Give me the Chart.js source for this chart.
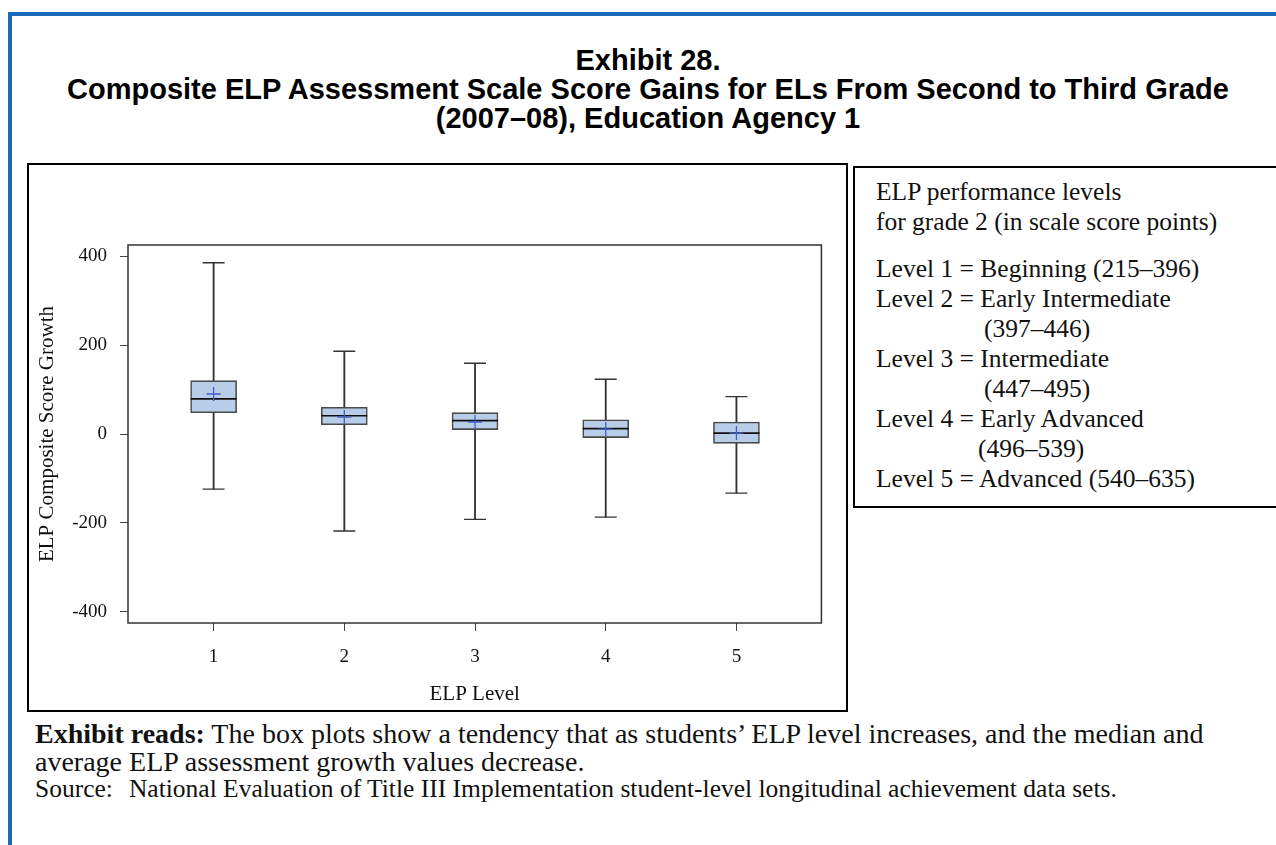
<!DOCTYPE html>
<html>
<head>
<meta charset="utf-8">
<script src="https://cdn.jsdelivr.net/npm/chart.js@4.4.1/dist/chart.umd.min.js"></script>
<style>
  html, body { margin: 0; padding: 0; background: #fff; }
  body { width: 1276px; height: 845px; position: relative; overflow: hidden; }
  .abs { position: absolute; }
  #blueTop { left: 8px; top: 12px; width: 1268px; height: 4px; background: #1a6bb7; }
  #blueLeft { left: 8px; top: 12px; width: 4px; height: 833px; background: #1a6bb7; }
  #title { left: 8px; width: 1280px; top: 46px; text-align: center;
    font: bold 29px "Liberation Sans", Arial, sans-serif; line-height: 29px; color: #000; }
  #chartBox { left: 27px; top: 163px; width: 821px; height: 549px; border: 2px solid #000; box-sizing: border-box; }
  #chartBox canvas { position: absolute; left: 0; top: 0; }
  #legendBox { left: 853px; top: 166px; width: 480px; height: 342px; border: 2px solid #000; box-sizing: border-box;
    padding: 9px 0 0 21px; font: 25.5px "Liberation Serif", serif; line-height: 30px; color: #111; white-space: nowrap; }
  #legendBox .gap { height: 17px; }
  .foot { left: 35px; font: 28px "Liberation Serif", serif; line-height: 28px; color: #111; white-space: nowrap; }
  .src { left: 35px; font: 25.5px "Liberation Serif", serif; line-height: 28px; color: #111; white-space: nowrap; }
</style>
</head>
<body>
<div id="blueTop" class="abs"></div>
<div id="blueLeft" class="abs"></div>

<div id="title" class="abs">
  Exhibit 28.<br>
  Composite ELP Assessment Scale Score Gains for ELs From Second to Third Grade<br>
  (2007–08), Education Agency 1
</div>

<div id="chartBox" class="abs">
  <canvas id="boxChart" width="817" height="545"></canvas>
</div>

<div id="legendBox" class="abs">
  <div>ELP performance levels</div>
  <div>for grade 2 (in scale score points)</div>
  <div class="gap"></div>
  <div>Level 1 = Beginning (215–396)</div>
  <div>Level 2 = Early Intermediate</div>
  <div style="padding-left:108px">(397–446)</div>
  <div>Level 3 = Intermediate</div>
  <div style="padding-left:108px">(447–495)</div>
  <div>Level 4 = Early Advanced</div>
  <div style="padding-left:102px">(496–539)</div>
  <div>Level 5 = Advanced (540–635)</div>
</div>

<div class="abs foot" style="top:720px"><b>Exhibit reads:</b> The box plots show a tendency that as students’ ELP level increases, and the median and</div>
<div class="abs foot" style="top:748px">average ELP assessment growth values decrease.</div>
<div class="abs src" style="top:775px">Source:<span style="display:inline-block;width:16px"></span>National Evaluation of Title III Implementation student-level longitudinal achievement data sets.</div>

<script>
const levels = [1, 2, 3, 4, 5];
const whiskerLow = [-124, -218, -192, -187, -133];
const q1 = [48, 21, 10, -8, -21];
const median = [79, 41, 30, 12, 2];
const q3 = [120, 60, 48, 32, 27];
const whiskerHigh = [385, 186, 159, 123, 84];
const mean = [90, 38, 27, 11, 2];
const yTicks = [-400, -200, 0, 200, 400];

Chart.defaults.font.family = "'Liberation Serif', 'Times New Roman', serif";
Chart.defaults.color = '#111';

// box frame around the plot area
const framePlugin = {
  id: 'frame',
  beforeDatasetsDraw(chart) {
    const { ctx, chartArea } = chart;
    ctx.save();
    ctx.strokeStyle = '#333';
    ctx.lineWidth = 1.5;
    ctx.strokeRect(chartArea.left, chartArea.top, chartArea.right - chartArea.left, chartArea.bottom - chartArea.top);
    ctx.restore();
  }
};

const ctx = document.getElementById('boxChart').getContext('2d');

new Chart(ctx, {
  type: 'bar',
  data: {
    datasets: [
      {
        label: 'Mean',
        type: 'scatter',
        data: levels.map((l, i) => ({ x: l, y: mean[i] })),
        pointStyle: 'cross',
        radius: 7,
        borderColor: '#3f5fc6',
        borderWidth: 1.3,
        order: 1
      },
      {
        label: 'Median',
        type: 'scatter',
        data: levels.map((l, i) => ({ x: l, y: median[i] })),
        pointStyle: 'line',
        radius: 23,
        borderColor: '#111',
        borderWidth: 1.6,
        order: 2
      },
      {
        label: 'Caps',
        type: 'scatter',
        data: levels.map((l, i) => ({ x: l, y: whiskerHigh[i] }))
          .concat(levels.map((l, i) => ({ x: l, y: whiskerLow[i] }))),
        pointStyle: 'line',
        radius: 11,
        borderColor: '#333',
        borderWidth: 1.4,
        order: 2
      },
      {
        label: 'Box',
        data: levels.map((l, i) => ({ x: l, y: [q1[i], q3[i]] })),
        backgroundColor: '#b8cde7',
        borderColor: '#4a4a4a',
        borderWidth: 1.6,
        borderSkipped: false,
        barThickness: 46,
        grouped: false,
        order: 3
      },
      {
        label: 'Whisker',
        data: levels.map((l, i) => ({ x: l, y: [whiskerLow[i], whiskerHigh[i]] })),
        backgroundColor: '#333',
        borderWidth: 0,
        barThickness: 1.2,
        grouped: false,
        order: 4
      }
    ]
  },
  options: {
    responsive: false,
    animation: false,
    layout: { padding: { left: 0, top: 80, right: 24, bottom: 0 } },
    plugins: {
      legend: { display: false },
      tooltip: { enabled: false }
    },
    scales: {
      x: {
        type: 'linear',
        min: 0.345,
        max: 5.65,
        offset: false,
        afterBuildTicks: (scale) => { scale.ticks = levels.map(v => ({ value: v })); },
        afterFit: (scale) => { scale.height = 87; },
        grid: { display: true, offset: false, drawOnChartArea: false, drawTicks: true, tickLength: 8, color: '#444', lineWidth: 1 },
        border: { display: false },
        ticks: { padding: 15, font: { size: 19 }, color: '#111', callback: v => String(v) },
        title: { display: true, text: 'ELP Level', font: { size: 21 }, color: '#111', padding: { top: 0, bottom: 3 } }
      },
      y: {
        type: 'linear',
        min: -425,
        max: 425,
        afterBuildTicks: (scale) => { scale.ticks = yTicks.map(v => ({ value: v })); },
        afterFit: (scale) => { scale.width = 99; },
        grid: { display: true, drawOnChartArea: false, drawTicks: true, tickLength: 8, color: '#444', lineWidth: 1 },
        border: { display: false },
        ticks: { padding: 13, font: { size: 19 }, color: '#111', callback: v => String(v) },
        title: { display: true, text: 'ELP Composite Score Growth', font: { size: 21 }, color: '#111', padding: { top: 6, bottom: 0 } }
      }
    }
  },
  plugins: [framePlugin]
});
</script>
</body>
</html>
